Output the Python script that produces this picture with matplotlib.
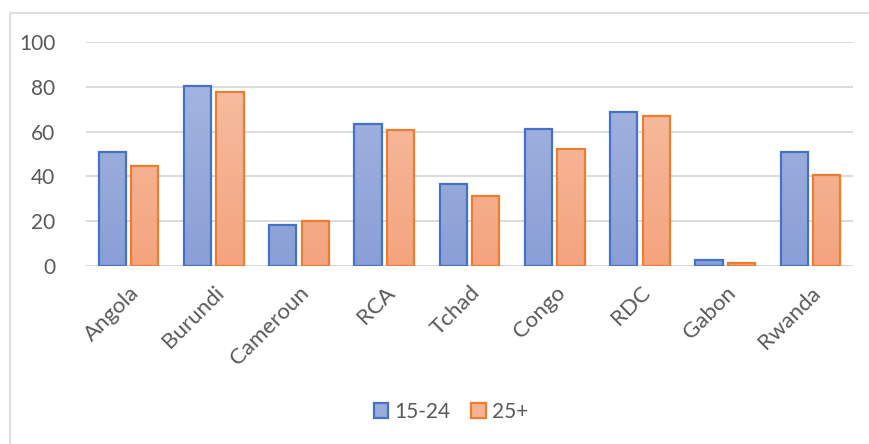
import numpy as np
import matplotlib
matplotlib.use("Agg")
import matplotlib.pyplot as plt
from matplotlib.patches import Rectangle, Patch
from matplotlib.colors import LinearSegmentedColormap

countries = ["Angola", "Burundi", "Cameroun", "RCA", "Tchad", "Congo", "RDC", "Gabon", "Rwanda"]
youth_15_24 = [51.0, 80.2, 18.3, 63.4, 36.6, 61.2, 68.8, 2.5, 51.0]
adults_25p = [44.6, 77.7, 20.0, 60.9, 31.4, 52.1, 67.1, 1.5, 40.6]
series_labels = ["15-24", "25+"]
yticks = [0, 20, 40, 60, 80, 100]

plt.rcParams['font.family'] = ['Lato', 'DejaVu Sans']

fig = plt.figure(figsize=(8.7, 4.44), dpi=100)
fig.patch.set_facecolor("white")

# outer chart frame
frame = Rectangle((10 / 870, -0.1), 1.2, 1 - 13 / 444 + 0.1, transform=fig.transFigure,
                  fill=False, edgecolor="#D9D9D9", linewidth=1.2)
fig.add_artist(frame)

ax = fig.add_axes([86 / 870, 1 - 266 / 444, (853 - 86) / 870, (266 - 42) / 444])
ax.set_xlim(-0.5, len(countries) - 0.5)
ax.set_ylim(0, 100)

for s in ax.spines.values():
    s.set_visible(False)
ax.set_yticks(yticks)
ax.yaxis.grid(True, color="#D9D9D9", linewidth=1.3)
ax.set_axisbelow(True)
ax.tick_params(axis="y", length=0, colors="#595959", labelsize=15, pad=22)
ax.tick_params(axis="x", length=0, colors="#595959", labelsize=16, pad=12)
ax.axhline(0, color="#D9D9D9", linewidth=1.3, zorder=1)

x = np.arange(len(countries))
width = 0.32
offset = 0.19

blue_cmap = LinearSegmentedColormap.from_list("b", ["#8A9FD6", "#AAB9E2"])
orange_cmap = LinearSegmentedColormap.from_list("o", ["#F4A47E", "#F7C2A9"])
grad = np.linspace(0, 1, 256).reshape(-1, 1)

def draw_series(xs, vals, edge, cmap):
    bars = ax.bar(xs, vals, width, facecolor="none", edgecolor=edge, linewidth=1.6, zorder=3)
    for b in bars:
        x0, y0 = b.get_x(), b.get_y()
        w, h = b.get_width(), b.get_height()
        im = ax.imshow(grad, cmap=cmap, origin="lower", aspect="auto",
                       extent=[x0, x0 + w, 0, 100], zorder=2)
        clip = Rectangle((x0, y0), w, h, transform=ax.transData)
        im.set_clip_path(clip)
    return bars

draw_series(x - offset, youth_15_24, "#4472C4", blue_cmap)
draw_series(x + offset, adults_25p, "#ED7D31", orange_cmap)
ax.set_xlim(-0.5, len(countries) - 0.5)
ax.set_ylim(0, 100)

ax.set_xticks(x)
ax.set_xticklabels(countries, rotation=45, ha="right", va="top", rotation_mode="anchor")

handles = [Patch(facecolor="#9AACDC", edgecolor="#4472C4", linewidth=1.6),
           Patch(facecolor="#F6B394", edgecolor="#ED7D31", linewidth=1.6)]
fig.legend(handles, series_labels, loc="center", bbox_to_anchor=(451 / 870, 1 - 412 / 444),
           ncol=2, frameon=False, fontsize=15, labelcolor="#595959",
           handlelength=0.7, handleheight=0.7, handletextpad=0.3, columnspacing=1.0)

fig.savefig("out.png", dpi=100, facecolor="white")
